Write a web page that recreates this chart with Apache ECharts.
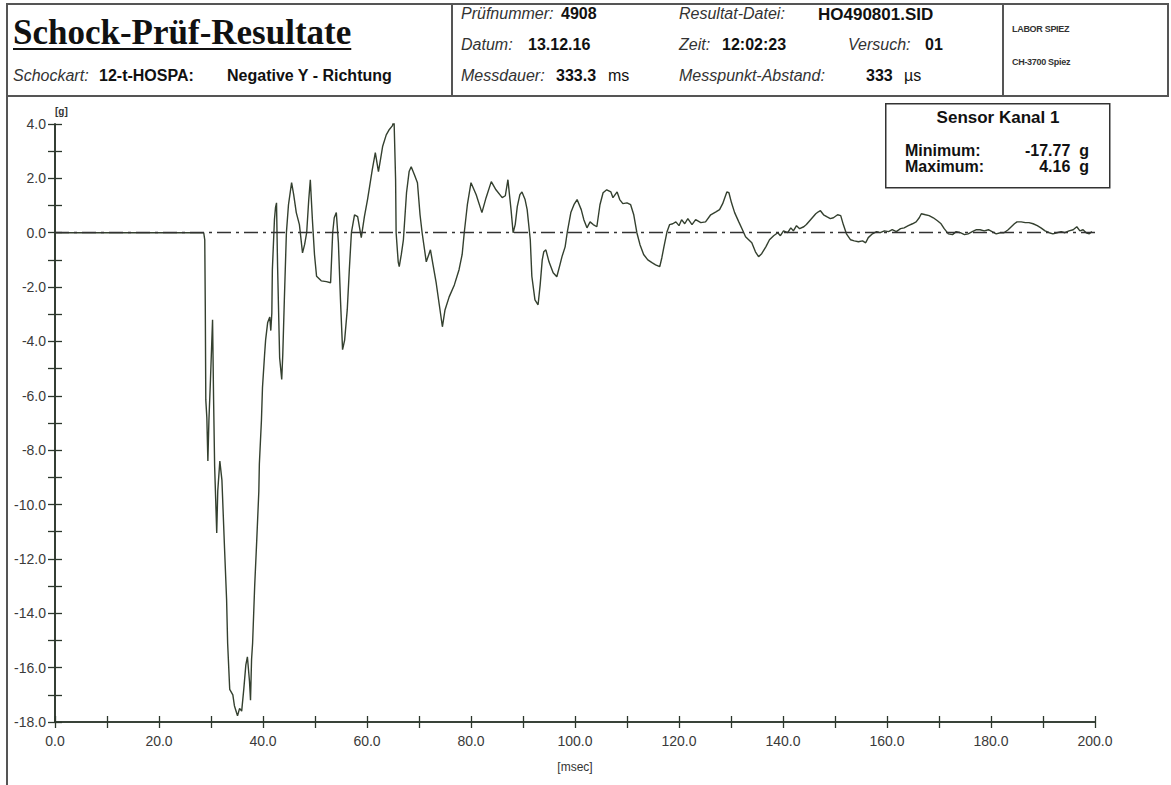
<!DOCTYPE html>
<html>
<head>
<meta charset="utf-8">
<script src="https://cdn.jsdelivr.net/npm/echarts@6/dist/echarts.min.js"></script>
<style>
  html, body { margin:0; padding:0; background:#fff; }
  body { width:1171px; height:785px; position:relative; overflow:hidden; font-family:"Liberation Sans", Arial, sans-serif; }
  #chart { position:absolute; left:0; top:0; width:1171px; height:785px; }
  .ln { position:absolute; background:#555; }
  .t { position:absolute; white-space:nowrap; line-height:1; color:#111; }
  .i { font-style:italic; color:#333; }
  .b { font-weight:bold; color:#111; }
</style>
</head>
<body>
<div id="chart"></div>
<!-- frame lines -->
<div class="ln" style="left:6px;top:3px;width:2px;height:782px;"></div>
<div class="ln" style="left:6px;top:3px;width:1163px;height:2px;"></div>
<div class="ln" style="left:6px;top:95px;width:1163px;height:2px;"></div>
<div class="ln" style="left:451px;top:3px;width:2px;height:93px;"></div>
<div class="ln" style="left:1002px;top:3px;width:2px;height:93px;"></div>
<div class="ln" style="left:1167px;top:3px;width:2px;height:93px;"></div>

<div id="header"></div>

<script>
// ---- header texts ----
const titleText = "Schock-Prüf-Resultate";
const headerItems = [
  // [text, left, centerY, class, fontSize]
  ["Schockart:", 13, 77, "i", 16],
  ["12-t-HOSPA:", 99, 77, "b", 16],
  ["Negative Y - Richtung", 227, 77, "b", 16],
  ["Prüfnummer:", 461, 15, "i", 16],
  ["4908", 561, 15, "b", 16],
  ["Resultat-Datei:", 679, 15, "i", 16],
  ["HO490801.SID", 818, 15, "b", 17],
  ["Datum:", 461, 46, "i", 16],
  ["13.12.16", 528, 46, "b", 16],
  ["Zeit:", 679, 46, "i", 16],
  ["12:02:23", 722, 46, "b", 16],
  ["Versuch:", 848, 46, "i", 16],
  ["01", 925, 46, "b", 16],
  ["Messdauer:", 461, 77, "i", 16],
  ["333.3", 556, 77, "b", 16],
  ["ms", 608, 77, "", 16],
  ["Messpunkt-Abstand:", 679, 77, "i", 16],
  ["333", 866, 77, "b", 16],
  ["µs", 904, 77, "", 16],
  ["LABOR SPIEZ", 1012, 30, "", 9],
  ["CH-3700 Spiez", 1012, 63, "", 9]
];

// ---- chart data ----
const timeMs = [0,28.6,28.8,28.9,29.0,29.2,29.4,29.6,29.9,30.3,30.5,30.7,30.9,31.1,31.3,31.7,32.1,32.6,33.0,33.2,33.6,34.2,34.5,34.9,35.1,35.5,35.9,36.3,36.7,37.0,37.4,37.6,37.8,38.0,38.4,38.8,39.2,39.3,39.7,39.9,40.3,40.5,40.9,41.3,41.5,41.7,41.8,42.2,42.4,42.6,42.8,43.2,43.6,43.8,44.1,44.5,44.9,45.5,45.9,46.4,47.0,47.6,48.0,48.4,48.8,49.1,49.5,49.9,50.3,51.2,52.2,53.0,53.4,53.7,54.1,54.5,54.9,55.3,55.7,56.2,56.6,57.0,57.6,58.2,58.9,59.5,60.1,60.5,61.0,61.6,62.2,62.6,63.0,63.7,64.3,64.9,65.2,65.5,65.6,66.0,66.2,66.6,67.0,67.6,68.1,68.5,69.1,69.7,70.2,70.6,71.4,72.2,72.7,73.3,73.9,74.5,75.0,75.8,76.8,77.7,78.3,78.7,79.3,80.0,81.0,82.1,82.9,83.9,84.8,86.0,86.6,87.1,87.7,88.1,88.5,88.9,89.4,89.8,90.4,90.8,91.4,91.7,92.3,92.9,93.3,93.7,94.0,94.4,95.0,95.8,96.5,97.1,97.5,98.1,98.5,99.2,99.8,100.4,101.2,101.7,102.3,102.9,103.5,104.2,104.8,105.4,106.1,106.9,107.3,108.1,108.6,109.2,110.0,110.7,111.3,111.9,112.5,113.2,114.0,114.8,115.5,116.3,116.7,117.1,117.7,118.2,118.8,119.4,120.0,120.5,121.1,121.7,122.5,123.2,124.2,125.1,126.1,127.1,127.8,128.4,129.2,129.6,130.1,130.7,131.5,132.2,132.8,133.4,134.0,134.7,135.3,135.9,136.7,137.4,138.2,139.0,139.5,140.1,140.9,141.5,142.0,142.6,143.2,144.0,144.5,145.3,146.3,146.8,147.2,147.8,148.4,149.1,149.7,150.5,151.1,151.6,152.2,153.0,153.7,154.5,155.3,155.9,156.4,157.2,158.0,158.7,159.5,160.3,161.0,161.8,162.6,163.3,164.1,164.9,165.6,166.2,166.6,167.4,168.1,168.9,169.7,170.4,171.0,171.8,172.6,173.3,174.1,174.9,175.6,176.4,177.2,177.9,178.7,179.5,180.2,181.0,181.8,182.5,183.3,183.9,184.5,185.0,185.8,186.6,187.3,188.1,188.9,189.6,190.4,191.2,191.9,192.7,193.5,194.2,195.0,195.8,196.5,197.1,197.7,198.3,198.9,199.4];
const accelG = [0,0,-0.26,-2.7,-6.15,-6.8,-8.4,-6.9,-5.4,-3.2,-6.15,-8.6,-9.8,-11.05,-9.5,-8.4,-9.1,-11.6,-13.5,-15.1,-16.8,-17.0,-17.4,-17.65,-17.77,-17.5,-17.6,-16.8,-15.9,-15.6,-16.5,-17.2,-15.7,-15.1,-13.0,-11.3,-9.5,-8.5,-6.9,-5.7,-4.5,-3.95,-3.3,-3.1,-3.6,-2.95,-1.36,0.48,0.92,1.1,-1.2,-4.6,-5.4,-4.5,-2.5,0,1.03,1.84,1.4,0.74,0.3,-0.74,-0.44,0,1.22,1.95,0.48,-0.8,-1.6,-1.77,-1.8,-1.84,0,0.55,0.74,-0.37,-2.47,-4.3,-3.95,-2.84,-1.36,0,0.66,0.59,-0.18,0.59,1.22,1.7,2.3,2.95,2.25,2.7,3.17,3.6,3.8,3.94,4.16,1.95,0,-1.07,-1.25,-0.8,-0.26,1.47,2.25,2.43,2.14,1.84,0.66,0,-1.07,-0.63,-1.18,-1.84,-2.65,-3.46,-2.84,-2.36,-1.92,-1.36,-0.8,0,1.03,1.84,1.4,0.74,1.29,1.88,1.58,1.29,1.36,1.95,0.85,0,0.3,0.96,1.4,1.5,1.22,0.85,-0.26,-1.6,-2.47,-2.65,-1.92,-1.0,-0.7,-0.63,-1.07,-1.47,-1.62,-1.18,-0.88,-0.52,0,0.74,1.03,1.22,0.85,0.48,0.18,0.4,0.3,0.22,1.03,1.47,1.58,1.5,1.29,1.5,1.22,1.07,1.1,1.03,0.66,0,-0.44,-0.8,-1.0,-1.1,-1.18,-1.25,-0.92,-0.52,0.04,0.3,0.33,0.4,0.26,0.48,0.33,0.52,0.3,0.48,0.37,0.4,0.66,0.77,0.85,1.07,1.5,1.47,1.1,0.74,0.4,0.11,-0.15,-0.26,-0.37,-0.7,-0.88,-0.77,-0.52,-0.26,-0.11,0,-0.11,0.07,0,0.18,0.07,0.26,0.15,0.22,0.3,0.48,0.7,0.77,0.81,0.66,0.59,0.52,0.55,0.66,0.63,0.3,-0.04,-0.26,-0.3,-0.33,-0.3,-0.37,-0.18,-0.04,0.04,0,0.07,0.04,0.11,0.04,0.15,0.18,0.26,0.33,0.4,0.55,0.7,0.66,0.63,0.55,0.44,0.33,0.15,-0.04,-0.07,0.04,0,-0.07,-0.04,0.04,0.11,0.11,0.07,0.11,0.04,-0.04,0,0,0.11,0.22,0.33,0.4,0.4,0.37,0.37,0.33,0.26,0.18,0.07,0,-0.04,0,0.04,0,0.07,0.11,0.22,0.07,0.11,0,-0.04,0.04];

const sensorTitle = "Sensor Kanal 1";
const statLabels = ["Minimum:", "Maximum:"];
const statValues = ["-17.77  g", "4.16  g"];
const xUnit = "[msec]";
const yUnit = "[g]";

// ---- build header ----
const hdr = document.getElementById('header');
(function(){
  const t = document.createElement('div');
  t.className = 't';
  t.textContent = titleText;
  t.style.cssText = 'left:13px;top:15px;font-family:"Liberation Serif","Times New Roman",serif;font-weight:bold;font-size:35px;color:#111;text-decoration:underline;text-decoration-thickness:2px;text-underline-offset:4px;';
  hdr.appendChild(t);
  headerItems.forEach(([txt, left, cy, cls, fs]) => {
    const d = document.createElement('div');
    d.className = 't ' + cls;
    d.textContent = txt;
    d.style.left = left + 'px';
    d.style.top = (cy - fs * 0.55) + 'px';
    d.style.fontSize = fs + 'px';
    if (fs < 10) { d.style.fontWeight = 'bold'; d.style.color = '#333'; d.style.letterSpacing = '-0.3px'; }
    hdr.appendChild(d);
  });
})();

// ---- chart ----
const chart = echarts.init(document.getElementById('chart'), null, { renderer: 'svg' });
const pts = timeMs.map((t, i) => [t, accelG[i]]);
const axisColor = '#2c372c';
const labelStyle = { color: '#3a3a3a', fontSize: 14, fontFamily: 'Liberation Sans' };

const yBase = { type: 'value', min: -18, max: 4, interval: 1, position: 'left', splitLine: { show: false },
  axisLine: { show: true, lineStyle: { color: axisColor, width: 1.6 } } };
const xBase = { type: 'value', min: 0, max: 200, interval: 10, position: 'bottom', splitLine: { show: false },
  axisLine: { show: true, onZero: false, lineStyle: { color: axisColor, width: 1.6 } } };

chart.setOption({
  animation: false,
  backgroundColor: 'transparent',
  grid: { left: 55, right: 76, top: 124, bottom: 63, containLabel: false },
  xAxis: [
    Object.assign({}, xBase, {
      axisTick: { show: true, inside: false, length: 6, lineStyle: { color: axisColor, width: 1.3 } },
      axisLabel: Object.assign({}, labelStyle, { margin: 12,
        formatter: v => (Math.round(v) % 20 === 0 ? v.toFixed(1) : '') }),
      name: xUnit, nameLocation: 'middle', nameGap: 39,
      nameTextStyle: { color: '#333', fontSize: 12, fontFamily: 'Liberation Sans' }
    }),
    Object.assign({}, xBase, {
      axisTick: { show: true, inside: true, length: 6, lineStyle: { color: axisColor, width: 1.3 } },
      axisLabel: { show: false }
    })
  ],
  yAxis: [
    Object.assign({}, yBase, {
      axisTick: { show: true, inside: false, length: 7, lineStyle: { color: axisColor, width: 1.3 } },
      axisLabel: Object.assign({}, labelStyle, { margin: 9,
        formatter: v => (Math.round(v) % 2 === 0 ? v.toFixed(1) : '') }),
      name: yUnit, nameLocation: 'end', nameGap: 8,
      nameTextStyle: { color: '#333', fontSize: 10, fontFamily: 'Liberation Sans', fontWeight: 'bold', align: 'left', padding: [0, 0, 0, 0] }
    }),
    Object.assign({}, yBase, {
      axisTick: { show: true, inside: true, length: 7, lineStyle: { color: axisColor, width: 1.3 } },
      axisLabel: { show: false }
    })
  ],
  series: [{
    type: 'line',
    data: pts,
    xAxisIndex: 0, yAxisIndex: 0,
    showSymbol: false,
    symbol: 'none',
    lineStyle: { color: '#34402f', width: 1.4 },
    markLine: {
      silent: true, symbol: 'none', label: { show: false },
      lineStyle: { color: '#333', width: 1.3, type: [14, 5, 3, 5] },
      data: [{ yAxis: 0 }]
    }
  }],
  graphic: [
    { type: 'rect', left: 885, top: 103, shape: { width: 224, height: 84 },
      style: { fill: '#fff', stroke: '#333', lineWidth: 1.5 } },
    { type: 'text', x: 998, y: 117, style: { text: sensorTitle, font: 'bold 17px "Liberation Sans"', fill: '#111', textAlign: 'center', textVerticalAlign: 'middle' } },
    { type: 'text', x: 905, y: 150, style: { text: statLabels[0], font: 'bold 16px "Liberation Sans"', fill: '#111', textVerticalAlign: 'middle' } },
    { type: 'text', x: 905, y: 166, style: { text: statLabels[1], font: 'bold 16px "Liberation Sans"', fill: '#111', textVerticalAlign: 'middle' } },
    { type: 'text', x: 1089, y: 150, style: { text: statValues[0], font: 'bold 16px "Liberation Sans"', fill: '#111', textAlign: 'right', textVerticalAlign: 'middle' } },
    { type: 'text', x: 1089, y: 166, style: { text: statValues[1], font: 'bold 16px "Liberation Sans"', fill: '#111', textAlign: 'right', textVerticalAlign: 'middle' } }
  ]
});
</script>
</body>
</html>
